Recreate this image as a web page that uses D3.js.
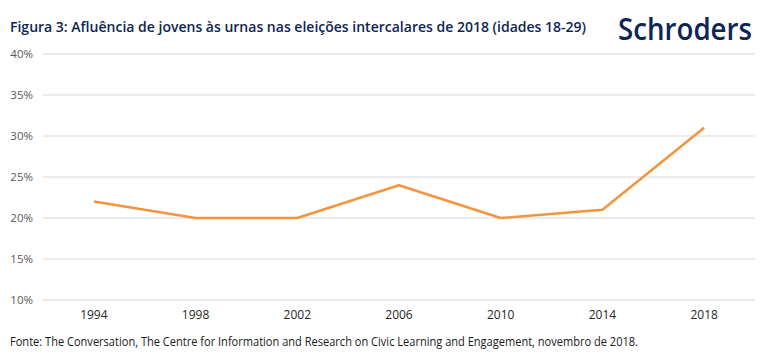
<!DOCTYPE html>
<html><head><meta charset="utf-8">
<script src="https://cdn.jsdelivr.net/npm/d3@7"></script>
<style>body{margin:0;background:#fff}svg{display:block}</style>
</head><body>
<svg id="c" width="770" height="356"></svg>
<script>
const categories = ["1994","1998","2002","2006","2010","2014","2018"];
const values = [22, 20, 20, 24, 20, 21, 31];
const yTicks = [10, 15, 20, 25, 30, 35, 40];

const svg = d3.select("#c");
const mLeft = 43, mRight = 755, mTop = 54, mBottom = 300;
const x = d3.scaleBand().domain(categories).range([mLeft, mRight]);
const y = d3.scaleLinear().domain([10, 40]).range([mBottom, mTop]);

svg.append("text").attr("x", 10).attr("y", 32)
  .attr("font-family", "Open Sans").attr("font-weight", 600).attr("font-size", 14.6)
  .attr("fill", "#0d2555")
  .attr("textLength", 576).attr("lengthAdjust", "spacingAndGlyphs")
  .text("Figura 3: Afluência de jovens às urnas nas eleições intercalares de 2018 (idades 18-29)");

svg.append("text").attr("x", 618).attr("y", 40)
  .attr("font-family", "Open Sans").attr("font-weight", 600).attr("font-size", 30)
  .attr("fill", "#0d2555")
  .attr("textLength", 134).attr("lengthAdjust", "spacingAndGlyphs")
  .text("Schroders");

const g = svg.append("g");
g.selectAll("line.grid").data(yTicks).enter().append("line")
  .attr("x1", mLeft).attr("x2", mRight)
  .attr("y1", d => y(d)).attr("y2", d => y(d))
  .attr("stroke", "#d9d9d9").attr("stroke-width", 1);

g.selectAll("text.yl").data(yTicks).enter().append("text")
  .attr("x", 33).attr("y", d => y(d) + 4).attr("text-anchor", "end")
  .attr("font-family", "Open Sans").attr("font-size", 11.5).attr("fill", "#595959")
  .text(d => d + "%");

g.selectAll("text.xl").data(categories).enter().append("text")
  .attr("x", d => x(d) + x.bandwidth() / 2).attr("y", 319).attr("text-anchor", "middle")
  .attr("font-family", "Open Sans").attr("font-size", 12).attr("fill", "#262626")
  .text(d => d);

const line = d3.line().x((d, i) => x(categories[i]) + x.bandwidth() / 2).y(d => y(d));
svg.append("path").datum(values).attr("d", line)
  .attr("fill", "none").attr("stroke", "#f5943f").attr("stroke-width", 2.5)
  .attr("stroke-linejoin", "round");

svg.append("text").attr("x", 10).attr("y", 346)
  .attr("font-family", "Open Sans").attr("font-size", 12).attr("fill", "#1a1a1a")
  .attr("textLength", 628).attr("lengthAdjust", "spacingAndGlyphs")
  .text("Fonte: The Conversation, The Centre for Information and Research on Civic Learning and Engagement, novembro de 2018.");
</script>
</body></html>
